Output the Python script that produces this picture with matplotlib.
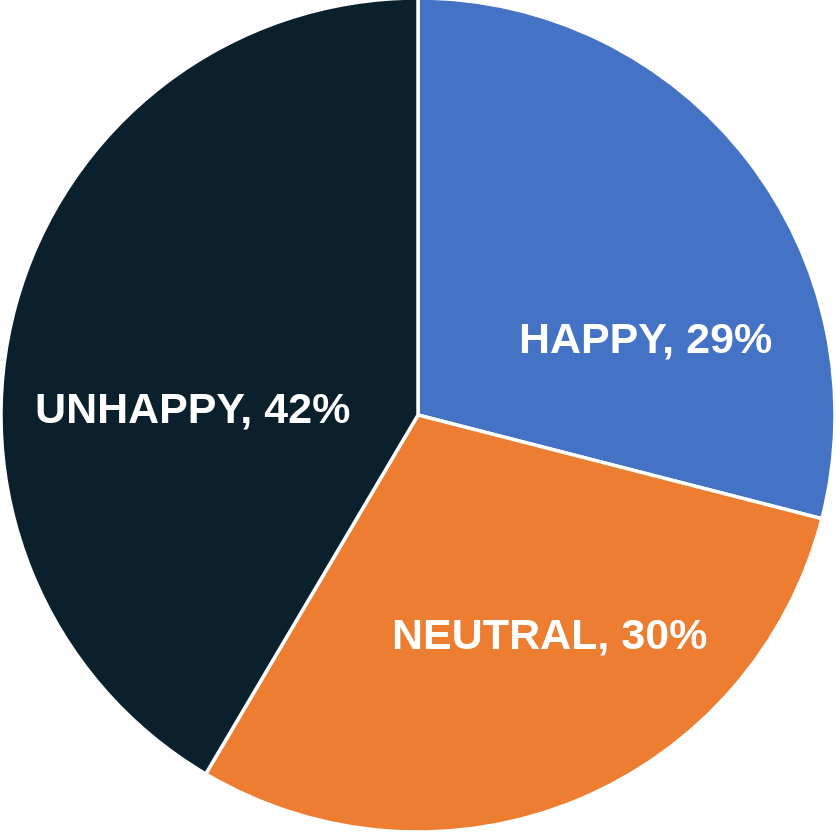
import numpy as np
import matplotlib
matplotlib.use('Agg')
import matplotlib.pyplot as plt

plt.rcParams['font.family'] = ['Liberation Sans', 'DejaVu Sans']

categories = ['HAPPY', 'NEUTRAL', 'UNHAPPY']
shares = [29.0, 29.5, 41.5]
pct_labels = ['29%', '30%', '42%']
colors = ['#4472C4', '#ED7D31', '#0B202D']

# label placement (radius, angle in degrees) - hand tuned to the reference
label_pos = [(0.573, 18.0), (0.62, -59.3), (0.54, 179.0)]

fig = plt.figure(figsize=(8.36, 8.32), dpi=100)
ax = fig.add_axes([0, 0, 1, 1])

wedges, texts = ax.pie(shares, colors=colors, startangle=90, counterclock=False,
                       labels=[c + ', ' + p for c, p in zip(categories, pct_labels)],
                       radius=1.0,
                       wedgeprops=dict(edgecolor='white', linewidth=2.5))

for t, (r, a) in zip(texts, label_pos):
    t.set_position((r * np.cos(np.radians(a)), r * np.sin(np.radians(a))))
    t.set_ha('center')
    t.set_va('center')
    t.set_color('white')
    t.set_fontsize(31)
    t.set_fontweight('bold')

ax.set_aspect('auto')
ax.set_xlim(-418 / 417, 418 / 417)
ax.set_ylim(-417 / 417, 415 / 417)
ax.axis('off')

fig.savefig('out.png', dpi=100, facecolor='white')
